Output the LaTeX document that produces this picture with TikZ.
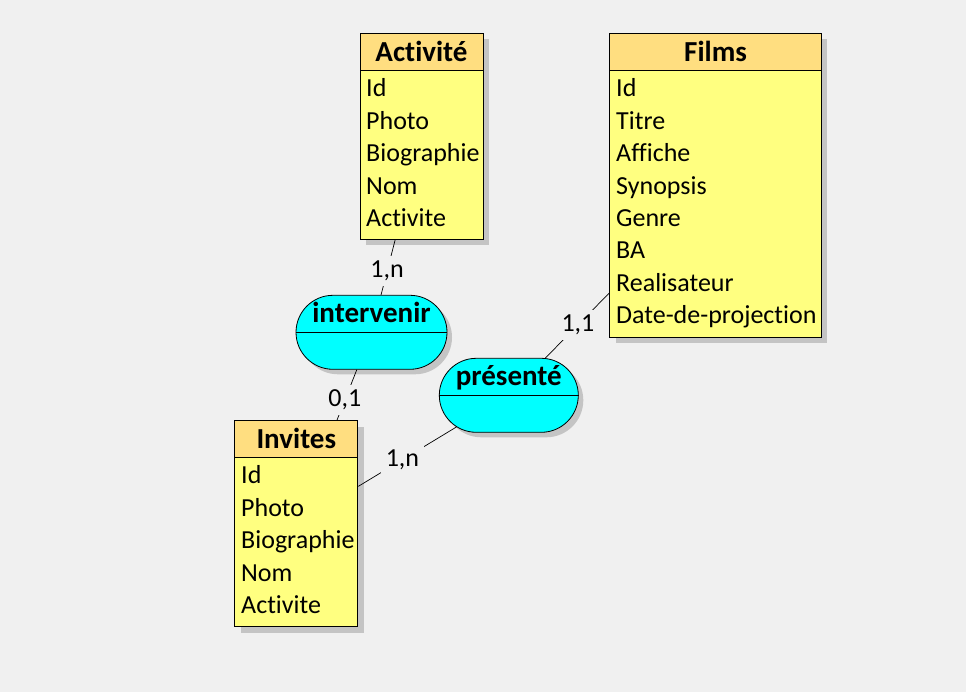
\documentclass[tikz,border=0pt]{standalone}
\usepackage{fontspec}
\setmainfont{Carlito}[Ligatures={NoCommon,NoContextual}]
\usetikzlibrary{shapes.misc,shadows}
\definecolor{bg}{HTML}{F0F0F0}
\definecolor{entbody}{HTML}{FFFF80}
\definecolor{enthead}{HTML}{FFDE80}
\definecolor{assocfill}{HTML}{00FFFF}
\definecolor{shade}{HTML}{C4C4C4}
\tikzset{
  entity/.style={draw, fill=entbody, anchor=north west, inner sep=0pt, line width=1pt,
    drop shadow={shadow xshift=6pt, shadow yshift=-6pt, fill=shade, opacity=1}},
  enttitle/.style={draw, fill=enthead, anchor=north west, inner sep=0pt, line width=1pt,
    minimum height=37pt, text height=19pt, text depth=0pt,
    font=\fontsize{29}{31}\selectfont\bfseries},
  field/.style={anchor=base west, inner sep=0pt, font=\fontsize{26}{28}\selectfont},
  assoc/.style={rounded rectangle, draw, fill=assocfill, inner sep=0pt, line width=0.8pt,
    minimum height=74pt,
    drop shadow={shadow xshift=5pt, shadow yshift=-5pt, fill=shade, opacity=1}},
  assoctitle/.style={anchor=base, inner sep=0pt, font=\fontsize{29}{31}\selectfont\bfseries},
  link/.style={line width=0.7pt},
  card/.style={fill=bg, inner sep=5pt, font=\fontsize{26}{28}\selectfont}
}
\begin{document}
\begin{tikzpicture}[x=1pt,y=-1pt]
\useasboundingbox (0,0) rectangle (966,692);
\fill[bg] (0,0) rectangle (966,692);

% entites
\node[entity, minimum width=123pt, minimum height=206pt] (act) at (359.5,33) {};
\node[enttitle, minimum width=123pt] (act-t) at (act.north west) {Activité};
\node[field] (act-1) at (366,97) {Id};
\node[field] (act-2) at (366,129.4) {Photo};
\node[field] (act-3) at (366,161.8) {Biographie};
\node[field] (act-4) at (366,194.2) {Nom};
\node[field] (act-5) at (366,226.6) {Activite};

\node[entity, minimum width=211.5pt, minimum height=304pt] (films) at (609.3,33) {};
\node[enttitle, minimum width=211.5pt] (films-t) at (films.north west) {Films};
\node[field] (films-1) at (616,97) {Id};
\node[field] (films-2) at (616,129.4) {Titre};
\node[field] (films-3) at (616,161.8) {Affiche};
\node[field] (films-4) at (616,194.2) {Synopsis};
\node[field] (films-5) at (616,226.6) {Genre};
\node[field] (films-6) at (616,259) {BA};
\node[field] (films-7) at (616,291.4) {Realisateur};
\node[field] (films-8) at (616,323.8) {Date-de-projection};

\node[entity, minimum width=123pt, minimum height=206pt] (inv) at (234.3,420.3) {};
\node[enttitle, minimum width=123pt] (inv-t) at (inv.north west) {Invites};
\node[field] (inv-1) at (241,483.5) {Id};
\node[field] (inv-2) at (241,516) {Photo};
\node[field] (inv-3) at (241,548.5) {Biographie};
\node[field] (inv-4) at (241,581) {Nom};
\node[field] (inv-5) at (241,613.5) {Activite};

% associations
\node[assoc, minimum width=151pt] (iv) at (371.5,332.3) {};
\draw[line width=0.8pt] (iv.west) -- (iv.east);
\node[assoctitle] (iv-t) at ([yshift=9.5pt]iv.center) {intervenir};

\node[assoc, minimum width=139pt] (pr) at (508.8,395.3) {};
\draw[line width=0.8pt] (pr.west) -- (pr.east);
\node[assoctitle] (pr-t) at ([yshift=9.5pt]pr.center) {présenté};

% liens
\draw[link] (act) -- node[card, pos=0.57] (c1) {1,n} (iv);
\draw[link] (iv) -- node[card, pos=0.6] (c2) {0,1} (inv);
\draw[link] (pr) -- node[card, pos=0.51] (c3) {1,1} (films);
\draw[link] (pr) -- node[card, pos=0.55] (c4) {1,n} (inv);
\end{tikzpicture}
\end{document}
